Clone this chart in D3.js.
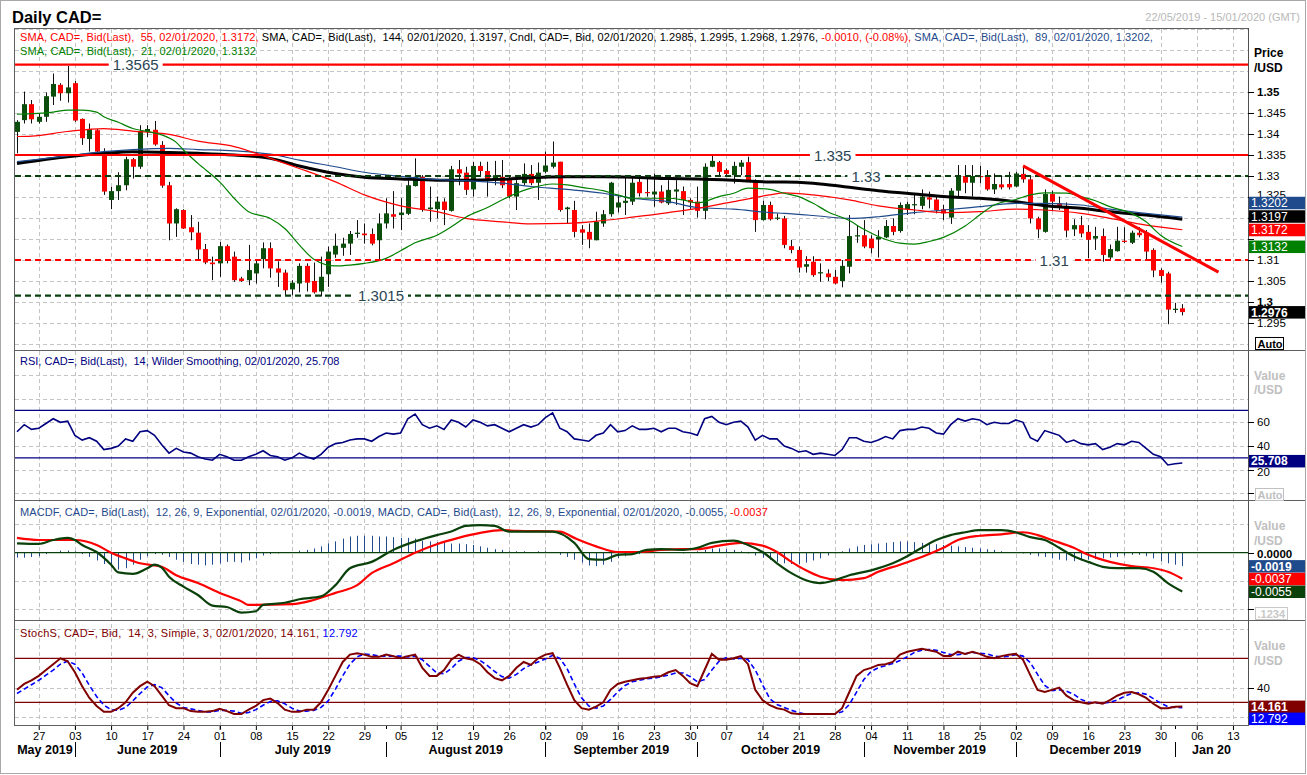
<!DOCTYPE html>
<html><head><meta charset="utf-8">
<script src="https://cdn.jsdelivr.net/npm/d3@7/dist/d3.min.js"></script>
<style>
html,body{margin:0;padding:0;background:#fff;}
svg{display:block;}
text{font-family:"Liberation Sans",Arial,sans-serif;white-space:pre;}
</style></head><body>
<svg id="chart" width="1307" height="775"></svg>
<script>
// ---------------- DATA ----------------
const firstTradingDay = "2019-05-22";
const candleOpen = [1.3405,1.3433,1.3471,1.3429,1.3441,1.3489,1.3517,1.3497,1.3521,1.3436,
1.3388,1.3409,1.3358,1.3243,1.3264,1.3278,1.3340,1.3322,1.3405,1.3410,
1.3374,1.3278,1.3187,1.3219,1.3178,1.3165,1.3126,1.3094,1.3092,1.3133,
1.3108,1.3056,1.3052,1.3068,1.3102,1.3128,1.3080,1.3070,1.3030,1.3044,
1.3086,1.3050,1.3025,1.3066,1.3113,1.3129,1.3139,1.3162,1.3163,1.3162,
1.3147,1.3187,1.3209,1.3207,1.3210,1.3276,1.3298,1.3221,1.3221,1.3239,
1.3217,1.3316,1.3308,1.3268,1.3324,1.3312,1.3290,1.3298,1.3292,1.3251,
1.3283,1.3305,1.3284,1.3310,1.3322,1.3334,1.3221,1.3219,1.3173,1.3167,
1.3147,1.3187,1.3209,1.3225,1.3236,1.3239,1.3286,1.3262,1.3256,1.3263,
1.3235,1.3263,1.3264,1.3243,1.3239,1.3217,1.3322,1.3333,1.3314,1.3302,
1.3322,1.3333,1.3290,1.3195,1.3231,1.3199,1.3199,1.3133,1.3124,1.3084,
1.3096,1.3068,1.3068,1.3060,1.3050,1.3084,1.3156,1.3159,1.3151,1.3149,
1.3154,1.3181,1.3169,1.3221,1.3231,1.3229,1.3249,1.3244,1.3221,1.3201,
1.3265,1.3300,1.3284,1.3300,1.3298,1.3268,1.3280,1.3281,1.3275,1.3305,
1.3292,1.3199,1.3167,1.3257,1.3235,1.3229,1.3173,1.3183,1.3167,1.3151,
1.3157,1.3106,1.3121,1.3146,1.3141,1.3165,1.3165,1.3124,1.3076,1.3068,
1.2981,1.2985];
const candleHigh = [1.3433,1.3501,1.3481,1.3449,1.3499,1.3544,1.3521,1.3562,1.3526,1.3437,
1.3425,1.3412,1.3366,1.3274,1.3309,1.3346,1.3343,1.3421,1.3421,1.3431,
1.3383,1.3286,1.3223,1.3221,1.3207,1.3191,1.3138,1.3108,1.3143,1.3137,
1.3120,1.3060,1.3136,1.3102,1.3142,1.3142,1.3097,1.3077,1.3052,1.3092,
1.3092,1.3094,1.3108,1.3132,1.3163,1.3153,1.3169,1.3195,1.3187,1.3175,
1.3211,1.3247,1.3264,1.3247,1.3290,1.3342,1.3302,1.3275,1.3251,1.3247,
1.3324,1.3338,1.3322,1.3334,1.3334,1.3334,1.3336,1.3338,1.3298,1.3290,
1.3330,1.3326,1.3332,1.3358,1.3382,1.3334,1.3227,1.3241,1.3183,1.3187,
1.3215,1.3219,1.3286,1.3255,1.3298,1.3298,1.3302,1.3302,1.3306,1.3278,
1.3290,1.3290,1.3275,1.3247,1.3275,1.3330,1.3348,1.3336,1.3318,1.3334,
1.3338,1.3346,1.3292,1.3241,1.3239,1.3211,1.3205,1.3148,1.3132,1.3109,
1.3109,1.3092,1.3078,1.3076,1.3100,1.3207,1.3181,1.3195,1.3159,1.3171,
1.3195,1.3199,1.3237,1.3239,1.3257,1.3268,1.3263,1.3251,1.3231,1.3271,
1.3326,1.3326,1.3326,1.3324,1.3314,1.3306,1.3302,1.3310,1.3310,1.3322,
1.3298,1.3203,1.3268,1.3265,1.3251,1.3237,1.3197,1.3205,1.3183,1.3179,
1.3175,1.3137,1.3179,1.3178,1.3170,1.3178,1.3171,1.3128,1.3080,1.3072,
1.2998,1.2995];
const candleLow = [1.3354,1.3425,1.3425,1.3425,1.3429,1.3469,1.3479,1.3475,1.3429,1.3374,
1.3358,1.3356,1.3255,1.3221,1.3243,1.3266,1.3294,1.3317,1.3393,1.3372,
1.3272,1.3147,1.3155,1.3174,1.3147,1.3100,1.3090,1.3052,1.3060,1.3092,
1.3048,1.3048,1.3040,1.3044,1.3080,1.3058,1.3036,1.3016,1.3016,1.3023,
1.3025,1.3020,1.3013,1.3036,1.3105,1.3110,1.3112,1.3153,1.3139,1.3135,
1.3100,1.3175,1.3175,1.3171,1.3207,1.3275,1.3215,1.3191,1.3199,1.3183,
1.3215,1.3278,1.3255,1.3251,1.3298,1.3251,1.3278,1.3271,1.3247,1.3219,
1.3278,1.3278,1.3243,1.3306,1.3318,1.3215,1.3187,1.3154,1.3136,1.3128,
1.3147,1.3179,1.3203,1.3213,1.3207,1.3231,1.3251,1.3251,1.3227,1.3235,
1.3231,1.3231,1.3207,1.3219,1.3201,1.3197,1.3321,1.3298,1.3298,1.3282,
1.3302,1.3289,1.3167,1.3194,1.3194,1.3195,1.3128,1.3116,1.3070,1.3070,
1.3060,1.3048,1.3050,1.3042,1.3035,1.3068,1.3141,1.3128,1.3116,1.3106,
1.3152,1.3159,1.3165,1.3207,1.3209,1.3221,1.3223,1.3211,1.3195,1.3186,
1.3252,1.3259,1.3251,1.3283,1.3265,1.3257,1.3268,1.3268,1.3273,1.3284,
1.3187,1.3152,1.3165,1.3217,1.3219,1.3154,1.3157,1.3154,1.3104,1.3124,
1.3096,1.3100,1.3120,1.3140,1.3138,1.3154,1.3100,1.3059,1.3046,1.2947,
1.2974,1.2968];
const candleClose = [1.3429,1.3471,1.3435,1.3441,1.3490,1.3519,1.3497,1.3511,1.3432,1.3390,
1.3412,1.3358,1.3263,1.3264,1.3278,1.3340,1.3322,1.3407,1.3412,1.3375,
1.3277,1.3187,1.3221,1.3175,1.3166,1.3125,1.3094,1.3090,1.3133,1.3102,
1.3052,1.3050,1.3076,1.3092,1.3128,1.3080,1.3070,1.3028,1.3046,1.3086,
1.3046,1.3023,1.3060,1.3120,1.3134,1.3139,1.3162,1.3165,1.3159,1.3139,
1.3187,1.3211,1.3203,1.3213,1.3278,1.3298,1.3219,1.3225,1.3239,1.3219,
1.3316,1.3306,1.3267,1.3324,1.3312,1.3288,1.3302,1.3278,1.3251,1.3283,
1.3305,1.3283,1.3308,1.3325,1.3332,1.3219,1.3225,1.3167,1.3165,1.3149,
1.3191,1.3209,1.3284,1.3237,1.3241,1.3284,1.3259,1.3260,1.3263,1.3237,
1.3267,1.3268,1.3243,1.3237,1.3217,1.3322,1.3336,1.3310,1.3305,1.3324,
1.3332,1.3290,1.3195,1.3231,1.3197,1.3201,1.3136,1.3124,1.3082,1.3090,
1.3064,1.3071,1.3059,1.3044,1.3086,1.3157,1.3159,1.3132,1.3128,1.3155,
1.3181,1.3167,1.3231,1.3233,1.3233,1.3251,1.3244,1.3219,1.3211,1.3265,
1.3300,1.3284,1.3300,1.3298,1.3268,1.3281,1.3273,1.3273,1.3306,1.3292,
1.3199,1.3173,1.3257,1.3239,1.3225,1.3170,1.3183,1.3163,1.3148,1.3157,
1.3112,1.3126,1.3146,1.3143,1.3165,1.3159,1.3120,1.3075,1.3062,1.2982,
1.2984,1.2976];

// moving averages: [day index, value]
const sma21 = [[0,1.3447],[5,1.3452],[7,1.3457],[9,1.3457],[11,1.3452],[12,1.3441],[14,1.3428],[16,1.3413],[18,1.3406],[20,1.3398],[22,1.3380],[23,1.3362],[25,1.3330],[28,1.3286],[30,1.3247],[32,1.3215],[35,1.3199],[37,1.3175],[39,1.3136],[41,1.3102],[44,1.3086],[46,1.3088],[48,1.3092],[51,1.3104],[53,1.3122],[55,1.3141],[58,1.3159],[60,1.3179],[62,1.3202],[65,1.3225],[67,1.3243],[69,1.3259],[71,1.3271],[74,1.3281],[76,1.3279],[78,1.3273],[81,1.3265],[83,1.3255],[85,1.3247],[88,1.3247],[90,1.3247],[92,1.3243],[94,1.3236],[97,1.3251],[99,1.3259],[101,1.3271],[104,1.3268],[106,1.3259],[108,1.3251],[110,1.3235],[112,1.3215],[115,1.3194],[117,1.3173],[119,1.3156],[122,1.3140],[124,1.3138],[126,1.3144],[128,1.3154],[131,1.3181],[133,1.3207],[135,1.3231],[138,1.3244],[140,1.3255],[142,1.3260],[145,1.3259],[147,1.3251],[149,1.3241],[151,1.3227],[154,1.3211],[156,1.3191],[158,1.3159],[161,1.3132]];
const sma55 = [[0,1.3394],[2,1.3395],[7,1.3406],[12,1.3413],[16,1.3407],[21,1.3399],[25,1.3383],[30,1.3370],[35,1.3342],[39,1.3318],[44,1.3286],[48,1.3255],[53,1.3229],[58,1.3215],[62,1.3199],[67,1.3191],[71,1.3186],[76,1.3187],[81,1.3194],[85,1.3202],[90,1.3213],[94,1.3223],[99,1.3239],[104,1.3255],[106,1.3260],[110,1.3255],[115,1.3243],[119,1.3229],[124,1.3219],[128,1.3213],[133,1.3215],[138,1.3221],[142,1.3219],[147,1.3211],[151,1.3199],[156,1.3183],[161,1.3172]];
const sma89 = [[0,1.3334],[7,1.3348],[12,1.3358],[16,1.3363],[21,1.3366],[25,1.3363],[30,1.3360],[35,1.3352],[39,1.3338],[44,1.3322],[48,1.3309],[53,1.3299],[58,1.3292],[62,1.3289],[67,1.3283],[71,1.3275],[76,1.3268],[81,1.3259],[85,1.3247],[90,1.3239],[94,1.3225],[99,1.3221],[104,1.3213],[106,1.3211],[110,1.3206],[115,1.3199],[119,1.3203],[124,1.3213],[128,1.3219],[133,1.3227],[138,1.3235],[142,1.3235],[147,1.3231],[151,1.3221],[156,1.3211],[161,1.3202]];
const sma144 = [[0,1.3330],[7,1.3346],[12,1.3354],[16,1.3358],[21,1.3356],[25,1.3354],[30,1.3350],[35,1.3342],[39,1.3324],[44,1.3306],[48,1.3297],[53,1.3293],[58,1.3290],[62,1.3290],[67,1.3292],[71,1.3296],[76,1.3298],[81,1.3298],[85,1.3297],[90,1.3294],[94,1.3293],[99,1.3290],[104,1.3286],[106,1.3286],[110,1.3283],[115,1.3273],[119,1.3265],[124,1.3257],[128,1.3251],[133,1.3247],[138,1.3239],[142,1.3229],[147,1.3223],[151,1.3215],[156,1.3207],[161,1.3197]];

const levelValues = [1.3565, 1.335, 1.33, 1.31, 1.3015];
const levelLabels = ["1.3565", "1.335", "1.33", "1.31", "1.3015"];
const levelLabelDay = [16.4, 112.7, 117.3, 143.3, 50.3];
const trendDays = [139, 166];
const trendPrices = [1.3324, 1.3071];

const priceTicks = [1.295,1.3,1.305,1.31,1.315,1.32,1.325,1.33,1.335,1.34,1.345,1.35];
// labels hidden under the value boxes in the reference are left blank
const priceTickLabels = ["1.295","1.3","1.305","1.31","","","1.325","1.33","1.335","1.34","1.345","1.35"];

const rsi = [52,58,54,55,59,63,60,61,49,45,
47,44,37,38,40,46,44,52,53,49,
41,34,38,35,34,31,29,28,33,31,
28,28,31,33,36,32,31,28,30,34,
31,29,33,39,42,43,45,46,46,44,
48,51,50,51,63,67,58,55,57,54,
62,60,56,62,60,57,58,55,52,55,
58,56,58,64,68,55,52,46,45,44,
49,51,58,52,53,57,54,54,55,52,
55,55,52,51,49,63,65,60,58,60,
61,56,45,49,46,46,40,38,35,36,
33,34,33,32,37,47,47,44,43,45,
48,46,53,54,54,56,55,51,50,58,
63,61,63,62,58,60,59,59,62,60,
47,44,53,51,49,43,45,42,41,42,
37,39,42,41,44,43,38,33,31,24,
25,25.708];
const rsiBands = [70, 30];

const macdLine = [[0,0.00133],[3,0.00125],[5,0.0018],[7,0.0021],[8,0.0018],[9,0.0011],[11,0.0001],[13,-0.0017],[14,-0.0028],[16,-0.0030],[18,-0.0022],[19,-0.0017],[20,-0.0021],[21,-0.0034],[23,-0.0048],[25,-0.0060],[27,-0.0075],[29,-0.0077],[31,-0.0085],[33,-0.0083],[34,-0.0074],[37,-0.0071],[39,-0.0066],[42,-0.0062],[44,-0.0046],[46,-0.0022],[49,-0.0013],[52,0.0004],[55,0.0016],[58,0.0025],[60,0.0030],[62,0.0038],[64,0.0039],[66,0.0038],[68,0.0030],[74,0.0030],[77,0.0014],[79,-0.0009],[81,-0.0010],[83,-0.0003],[85,-0.0002],[87,0.0004],[89,0.0005],[92,0.0004],[94,0.0007],[96,0.0014],[99,0.0017],[101,0.0011],[103,0.0001],[105,-0.0015],[107,-0.0029],[109,-0.0039],[111,-0.0043],[113,-0.0039],[115,-0.0032],[118,-0.0025],[121,-0.0015],[123,-0.0005],[125,0.0007],[127,0.0018],[129,0.0025],[131,0.0029],[133,0.0032],[136,0.0032],[138,0.0029],[140,0.0022],[142,0.0018],[144,0.0007],[146,-0.0005],[148,-0.0013],[150,-0.0020],[152,-0.0022],[155,-0.0022],[157,-0.0027],[159,-0.0043],[161,-0.0055]];
const macdSignal = [[0,0.0021],[3,0.0018],[8,0.0018],[11,0.0011],[13,0.0000],[15,-0.0008],[17,-0.0015],[20,-0.0020],[22,-0.0032],[25,-0.0043],[28,-0.0057],[31,-0.0069],[32,-0.0074],[38,-0.0073],[41,-0.0067],[44,-0.0057],[47,-0.0046],[49,-0.0029],[52,-0.0015],[55,0.0000],[58,0.0012],[61,0.0021],[64,0.0028],[67,0.0032],[69,0.0031],[75,0.0030],[77,0.0021],[80,0.0009],[83,0.0001],[86,0.0001],[89,0.0004],[92,0.0005],[94,0.0005],[97,0.0010],[100,0.0014],[103,0.0010],[105,0.0001],[107,-0.0013],[109,-0.0025],[111,-0.0034],[114,-0.0039],[117,-0.0036],[119,-0.0027],[122,-0.0017],[125,-0.0006],[128,0.0007],[130,0.0018],[133,0.0024],[136,0.0026],[139,0.0029],[141,0.0025],[143,0.0018],[146,0.0007],[148,-0.0003],[151,-0.0013],[154,-0.0019],[157,-0.0022],[159,-0.0027],[161,-0.0037]];
const macdHist = [-0.0007,-0.0007,-0.0006,-0.0005,-0.0002,0.0001,0.0003,0.0003,0.0002,-0.0002,
-0.0006,-0.0011,-0.0016,-0.0021,-0.0024,-0.0022,-0.0017,-0.0010,-0.0005,-0.0002,
-0.0003,-0.0006,-0.0010,-0.0013,-0.0016,-0.0017,-0.0018,-0.0017,-0.0015,-0.0013,
-0.0013,-0.0014,-0.0011,-0.0008,-0.0004,-0.0002,-0.0001,0.0000,0.0001,0.0003,
0.0004,0.0006,0.0009,0.0013,0.0016,0.0020,0.0023,0.0024,0.0024,0.0024,
0.0023,0.0023,0.0022,0.0021,0.0021,0.0020,0.0017,0.0016,0.0015,0.0014,
0.0013,0.0013,0.0012,0.0011,0.0009,0.0007,0.0005,0.0004,0.0002,0.0002,
0.0002,0.0001,0.0002,0.0002,0.0001,-0.0003,-0.0006,-0.0010,-0.0014,-0.0018,
-0.0019,-0.0017,-0.0013,-0.0008,-0.0005,-0.0003,-0.0002,0.0001,0.0001,0.0000,
0.0001,0.0000,-0.0001,0.0000,0.0002,0.0004,0.0006,0.0006,0.0005,0.0004,
0.0002,-0.0001,-0.0004,-0.0007,-0.0010,-0.0013,-0.0015,-0.0016,-0.0016,-0.0014,
-0.0011,-0.0008,-0.0004,-0.0001,0.0002,0.0006,0.0009,0.0011,0.0012,0.0013,
0.0014,0.0015,0.0016,0.0016,0.0015,0.0014,0.0013,0.0012,0.0011,0.0010,
0.0009,0.0008,0.0007,0.0006,0.0005,0.0004,0.0002,0.0001,0.0000,-0.0001,
-0.0003,-0.0005,-0.0006,-0.0008,-0.0010,-0.0011,-0.0012,-0.0011,-0.0010,-0.0009,
-0.0008,-0.0007,-0.0006,-0.0004,-0.0003,-0.0003,-0.0005,-0.0008,-0.0012,-0.0015,
-0.0017,-0.0019];

const stochK = [37,45,50,56,64,72,80,76,61,42,
26,15,7,7,12,20,33,42,48,42,
29,16,12,12,8,7,7,8,11,8,
4,4,10,15,23,25,19,10,7,7,
10,10,20,37,56,75,85,87,85,82,
82,85,83,80,83,85,67,56,56,64,
78,85,80,78,72,61,53,50,56,67,
75,71,80,85,87,67,44,23,12,10,
14,20,37,45,48,50,52,53,55,56,
61,64,56,46,42,64,86,78,78,80,
83,72,37,23,16,12,10,5,4,4,
4,4,4,4,12,34,56,64,67,71,
72,75,85,89,91,93,91,89,83,83,
89,86,89,86,82,80,83,85,86,78,
57,37,34,37,40,29,23,20,18,20,
18,23,29,33,34,31,26,18,12,12,
14,14.161];
const stochD = [32,38,44,50,57,64,72,76,72,60,
43,28,16,10,9,13,22,32,41,44,
40,29,19,13,11,9,7,7,9,9,
8,5,6,10,16,21,22,18,12,8,
8,9,13,22,38,56,72,82,86,85,
83,83,83,83,82,83,78,69,60,59,
66,76,81,81,77,70,62,55,53,58,
66,71,75,79,84,80,66,45,26,15,
12,15,24,34,43,48,50,52,53,55,
57,60,60,55,48,51,64,76,81,79,
80,78,64,44,25,17,13,9,6,4,
4,4,4,4,7,17,34,51,62,67,
70,73,77,82,88,91,92,91,88,85,
85,86,88,87,86,83,82,83,85,83,
74,58,43,36,37,35,31,24,20,19,
19,20,23,28,32,33,31,25,19,14,
13,12.792];
const stochBands = [80, 20];

const monthLabels = ["May 2019","June 2019","July 2019","August 2019","September 2019","October 2019","November 2019","December 2019","Jan 20"];

// ---------------- LAYOUT ----------------
const L = 15, R = 1248, RR = 1305;
const panels = {price:[28,350], rsi:[350,500], macd:[500,620], stoch:[620,725]};
const C = {green:"#0b4d0b", red:"#ff0000", navy:"#000080", blue:"#1f4a8c", grid:"#c4c4c4",
  maroon:"#800000", label:"#2a4654", macdGreen:"#0a400a"};

const svg = d3.select("#chart");
svg.append("rect").attr("width",1307).attr("height",775).attr("fill","#fff");

// trading days (weekdays)
const tradingDays = [];
for (let d = new Date(2019,4,22); tradingDays.length < 171; d.setDate(d.getDate()+1)) {
  if (d.getDay() % 6 !== 0) tradingDays.push(new Date(d));
}
const nDays = candleClose.length;
const idx = d3.range(nDays);
const x = d3.scaleLinear().domain([0,161]).range([17,1182.3]);
const yP = d3.scaleLinear().domain([1.3,1.35]).range([302,92]);
const yR = d3.scaleLinear().domain([0,100]).range([493.4,374.9]);
const yM = d3.scaleLinear().domain([0,-0.0055]).range([552.7,591.5]);
const yS = d3.scaleLinear().domain([20,80]).range([702.3,658.3]);

const mondays = d3.range(tradingDays.length).filter(i => tradingDays[i].getDay() === 1);

// clip paths
const defs = svg.append("defs");
Object.entries(panels).forEach(([k,[t,b]]) => {
  defs.append("clipPath").attr("id","clip-"+k).append("rect")
    .attr("x",L).attr("y",t+1).attr("width",R-L).attr("height",b-t-1);
});

// ---------------- GRID ----------------
const grid = svg.append("g").attr("stroke",C.grid).attr("stroke-dasharray","4,3").attr("stroke-width",1);
mondays.forEach(i => {
  const xx = Math.round(x(i)) + 0.5;
  grid.append("line").attr("x1",xx).attr("x2",xx).attr("y1",29).attr("y2",725);
});
function hgrid(vals, scale){
  vals.forEach(v => { const yy = Math.round(scale(v)) + 0.5;
    grid.append("line").attr("x1",L).attr("x2",R).attr("y1",yy).attr("y2",yy); });
}
hgrid(d3.range(0,16).map(k => 1.29 + k*0.005), yP);
hgrid([0,20,40,60,80,100], yR);
hgrid([0.004,-0.004,-0.008], yM);
hgrid([0,40,80,120], yS);

// ---------------- PRICE PANEL ----------------
const gP = svg.append("g").attr("clip-path","url(#clip-price)");

// candles
const cg = gP.append("g");
idx.forEach(i => {
  const up = candleClose[i] >= candleOpen[i];
  const xc = Math.round(x(i)) + 0.5;
  cg.append("line").attr("x1",xc).attr("x2",xc)
    .attr("y1",yP(candleHigh[i])).attr("y2",yP(candleLow[i]))
    .attr("stroke","#111").attr("stroke-width",1);
  const y1 = yP(Math.max(candleOpen[i],candleClose[i]));
  const y2 = yP(Math.min(candleOpen[i],candleClose[i]));
  cg.append("rect").attr("x",xc-2.5).attr("y",y1).attr("width",5)
    .attr("height",Math.max(1.2,y2-y1)).attr("fill", up ? C.green : C.red);
});

// SMAs
const maLine = d3.line().x(d => x(d[0])).y(d => yP(d[1])).curve(d3.curveMonotoneX);
gP.append("path").attr("d",maLine(sma144)).attr("fill","none").attr("stroke","#000").attr("stroke-width",3);
gP.append("path").attr("d",maLine(sma89)).attr("fill","none").attr("stroke",C.blue).attr("stroke-width",1.2);
gP.append("path").attr("d",maLine(sma55)).attr("fill","none").attr("stroke","#ff0000").attr("stroke-width",1.2);
gP.append("path").attr("d",maLine(sma21)).attr("fill","none").attr("stroke","#008000").attr("stroke-width",1.2);

// level lines
const levelStyle = [
  {c:"#ff0000", dash:null},{c:"#ff0000", dash:null},{c:"#0a4010", dash:"6,4"},
  {c:"#ff0000", dash:"6,4"},{c:"#0a4010", dash:"6,4"}];
levelValues.forEach((v,k) => {
  const yy = yP(v);
  gP.append("line").attr("x1",L).attr("x2",R).attr("y1",yy).attr("y2",yy)
    .attr("stroke",levelStyle[k].c).attr("stroke-width",2.2)
    .attr("stroke-dasharray",levelStyle[k].dash);
});
// trend line
gP.append("line").attr("x1",x(trendDays[0])).attr("y1",yP(trendPrices[0]))
  .attr("x2",x(trendDays[1])).attr("y2",yP(trendPrices[1]))
  .attr("stroke","#ff0000").attr("stroke-width",3);
// level labels
levelValues.forEach((v,k) => {
  const t = gP.append("text").attr("x",x(levelLabelDay[k])).attr("y",yP(v)+5.5)
    .attr("text-anchor","middle").attr("font-size",15).attr("fill",C.label).text(levelLabels[k]);
  const bb = t.node().getBBox();
  gP.insert("rect", () => t.node()).attr("x",bb.x-4).attr("y",yP(v)-3).attr("width",bb.width+8).attr("height",6).attr("fill","#fff");
});

// ---------------- RSI PANEL ----------------
const gR = svg.append("g").attr("clip-path","url(#clip-rsi)");
rsiBands.forEach(v => gR.append("line").attr("x1",L).attr("x2",R).attr("y1",yR(v)).attr("y2",yR(v))
  .attr("stroke",C.navy).attr("stroke-width",1.2));
gR.append("path").attr("d", d3.line().x((d,i)=>x(i)).y(d=>yR(d))(rsi))
  .attr("fill","none").attr("stroke",C.navy).attr("stroke-width",1.6);

// ---------------- MACD PANEL ----------------
const gM = svg.append("g").attr("clip-path","url(#clip-macd)");
idx.forEach(i => {
  const xc = Math.round(x(i)) + 0.5;
  gM.append("line").attr("x1",xc).attr("x2",xc).attr("y1",yM(0)).attr("y2",yM(macdHist[i]))
    .attr("stroke",C.blue).attr("stroke-width",1);
});
gM.append("line").attr("x1",L).attr("x2",R).attr("y1",yM(0)).attr("y2",yM(0))
  .attr("stroke",C.macdGreen).attr("stroke-width",1.3);
const mLine = d3.line().x(d => x(d[0])).y(d => yM(d[1])).curve(d3.curveMonotoneX);
gM.append("path").attr("d",mLine(macdSignal)).attr("fill","none").attr("stroke","#ff0000").attr("stroke-width",2.2);
gM.append("path").attr("d",mLine(macdLine)).attr("fill","none").attr("stroke",C.macdGreen).attr("stroke-width",2.2);

// ---------------- STOCH PANEL ----------------
const gS = svg.append("g").attr("clip-path","url(#clip-stoch)");
stochBands.forEach(v => gS.append("line").attr("x1",L).attr("x2",R).attr("y1",yS(v)).attr("y2",yS(v))
  .attr("stroke",C.maroon).attr("stroke-width",1.2));
gS.append("path").attr("d", d3.line().x((d,i)=>x(i)).y(d=>yS(d))(stochD))
  .attr("fill","none").attr("stroke","#0000ff").attr("stroke-width",1.6).attr("stroke-dasharray","5,3");
gS.append("path").attr("d", d3.line().x((d,i)=>x(i)).y(d=>yS(d))(stochK))
  .attr("fill","none").attr("stroke",C.maroon).attr("stroke-width",2);

// ---------------- FRAMES ----------------
svg.append("rect").attr("x",0.5).attr("y",0.5).attr("width",1305).attr("height",773)
  .attr("fill","none").attr("stroke","#a8a8a8");
svg.append("line").attr("x1",14.5).attr("x2",14.5).attr("y1",28).attr("y2",726).attr("stroke","#606060");
svg.append("line").attr("x1",14).attr("x2",R+0.5).attr("y1",28.5).attr("y2",28.5).attr("stroke","#606060");
svg.append("line").attr("x1",R+0.5).attr("x2",R+0.5).attr("y1",28).attr("y2",726).attr("stroke","#505050");
[350,500,620].forEach(yy => svg.append("line").attr("x1",14).attr("x2",RR).attr("y1",yy+0.5).attr("y2",yy+0.5).attr("stroke","#606060"));
svg.append("line").attr("x1",14).attr("x2",R+1).attr("y1",725.5).attr("y2",725.5).attr("stroke","#606060");

// ---------------- RIGHT AXES ----------------
const ax = svg.append("g");
function tick(yy){ ax.append("line").attr("x1",R).attr("x2",R+6).attr("y1",Math.round(yy)+0.5).attr("y2",Math.round(yy)+0.5).attr("stroke","#000"); }
function tlabel(yy, txt, bold, dy){ if(!txt) return; ax.append("text").attr("x",1257).attr("y",yy+4+(dy||0)).attr("font-size",11.5)
  .attr("font-weight",bold?"bold":"normal").attr("fill","#000").text(txt); }
priceTicks.forEach((v,k) => { tick(yP(v)); tlabel(yP(v), priceTickLabels[k], v===1.3||v===1.35, v===1.325?-2:0); });
[0,20,40,60].forEach(v => tick(yR(v)));
[20,40,60].forEach(v => tlabel(yR(v), String(v), false, v===20?2:0));
tick(yM(0)); tick(yM(-0.008));
tlabel(yM(0), "0.0000", true, 1.5);
tick(yS(40)); tlabel(yS(40), "40", false);

ax.append("text").attr("x",1254).attr("y",57).attr("font-size",12).attr("font-weight","bold").text("Price");
ax.append("text").attr("x",1254).attr("y",72).attr("font-size",12).attr("font-weight","bold").text("/USD");
[[380,394],[530,545],[650,665]].forEach(([a,b]) => {
  ax.append("text").attr("x",1254).attr("y",a).attr("font-size",12).attr("font-weight","bold").attr("fill","#c0c0c0").text("Value");
  ax.append("text").attr("x",1254).attr("y",b).attr("font-size",12).attr("font-weight","bold").attr("fill","#c0c0c0").text("/USD");
});
function smallBox(y0, txt, col, w){
  ax.append("rect").attr("x",1255.5).attr("y",y0+0.5).attr("width",w).attr("height",12).attr("fill","#fff").attr("stroke",col);
  ax.append("text").attr("x",1257.5).attr("y",y0+10.5).attr("font-size",11).attr("font-weight","bold").attr("fill",col).text(txt);
}
smallBox(337, "Auto", "#000", 28);
smallBox(488, "Auto", "#c0c0c0", 28);
smallBox(607, ".1234", "#c8c8c8", 32);

function valueBox(yc, fill, txt, bold){
  ax.append("rect").attr("x",1249).attr("y",yc-6).attr("width",56).attr("height",12.5).attr("fill",fill);
  ax.append("text").attr("x",1251).attr("y",yc+4.5).attr("font-size",12).attr("font-weight",bold?"bold":"normal")
    .attr("fill","#fff").text(txt);
}
// price boxes stacked upward from the lowest
const lastIdx = sma21.length-1;
const pb = [
  {v:sma21[lastIdx][1], c:"#008000", t:"1.3132"},
  {v:sma55[sma55.length-1][1], c:"#ff0000", t:"1.3172"},
  {v:sma144[sma144.length-1][1], c:"#000000", t:"1.3197"},
  {v:sma89[sma89.length-1][1], c:C.blue, t:"1.3202"}];
let prevY = 1e9;
pb.forEach(b => { const yy = Math.min(yP(b.v), prevY-13.5); prevY = yy; valueBox(yy, b.c, b.t, false); });
valueBox(yP(candleClose[nDays-1]), "#000", "1.2976", true);
valueBox(yR(rsi[nDays-1])-2, C.navy, "25.708", true);
valueBox(yM(macdHist[nDays-1]), C.blue, "-0.0019", true);
valueBox(yM(macdSignal[macdSignal.length-1][1]), "#ff0000", "-0.0037", false);
valueBox(yM(macdLine[macdLine.length-1][1]), C.macdGreen, "-0.0055", false);
valueBox(yS(stochK[nDays-1]), C.maroon, "14.161", true);
valueBox(yS(stochK[nDays-1])+12, "#0000ff", "12.792", false);

// ---------------- X AXIS ----------------
const xa = svg.append("g").attr("transform","translate(0,726)")
  .call(d3.axisBottom(x).tickValues(mondays).tickSize(4).tickPadding(2)
    .tickFormat(i => d3.timeFormat("%d")(tradingDays[i])));
xa.select(".domain").remove();
xa.selectAll("text").attr("font-size",11).attr("font-family","Liberation Sans, Arial, sans-serif").attr("fill","#000");
xa.selectAll("line").attr("stroke","#000");
const monthStarts = d3.range(1,tradingDays.length).filter(i => tradingDays[i].getMonth() !== tradingDays[i-1].getMonth());
monthStarts.forEach(i => {
  const xx = Math.round(x(i)) + 0.5;
  svg.append("line").attr("x1",xx).attr("x2",xx).attr("y1",742).attr("y2",757).attr("stroke","#000");
  svg.append("line").attr("x1",xx).attr("x2",xx).attr("y1",726).attr("y2",729).attr("stroke","#000");
});
const bounds = [L, ...monthStarts.map(i => x(i)), R];
monthLabels.forEach((m,k) => {
  svg.append("text").attr("x",(bounds[k]+bounds[k+1])/2).attr("y",754).attr("text-anchor","middle")
    .attr("font-size",12.5).attr("font-weight","bold").text(m);
});

// ---------------- TITLES / HEADERS ----------------
svg.append("text").attr("x",12).attr("y",23).attr("font-size",16.5).attr("font-weight","bold").text("Daily CAD=");
svg.append("text").attr("x",1300).attr("y",21).attr("text-anchor","end").attr("font-size",11).attr("fill","#b8b8b8")
  .text("22/05/2019 - 15/01/2020 (GMT)");

function header(xx, yy, parts, targetEnd){
  const t = svg.append("text").attr("x",xx).attr("y",yy).attr("font-size",11);
  parts.forEach(([s,c]) => t.append("tspan").attr("fill",c).text(s));
  const w = t.node().getComputedTextLength();
  const n = parts.reduce((a,p)=>a+p[0].length,0);
  t.attr("letter-spacing", Math.max(0, ((targetEnd-xx)-w)/n));
}
header(20, 41, [
  ["SMA, CAD=, Bid(Last),  55, 02/01/2020, 1.3172,","#ff0000"],
  [" SMA, CAD=, Bid(Last),  144, 02/01/2020, 1.3197, Cndl, CAD=, Bid, 02/01/2020, 1.2985, 1.2995, 1.2968, 1.2976,","#000"],
  [" -0.0010, (-0.08%),","#ff0000"],
  [" SMA, CAD=, Bid(Last),  89, 02/01/2020, 1.3202,",C.blue]], 1153);
header(20, 55, [["SMA, CAD=, Bid(Last),  21, 02/01/2020, 1.3132","#008000"]], 256);
header(20, 365, [["RSI, CAD=, Bid(Last),  14, Wilder Smoothing, 02/01/2020, 25.708",C.navy]], 326);
header(20, 516, [["MACDF, CAD=, Bid(Last),  12, 26, 9, Exponential, 02/01/2020, -0.0019, MACD, CAD=, Bid(Last),  12, 26, 9, Exponential, 02/01/2020, -0.0055,",C.blue],[" -0.0037","#ff0000"]], 768);
header(20, 637, [["StochS, CAD=, Bid,  14, 3, Simple, 3, 02/01/2020, 14.161,",C.maroon],[" 12.792","#0000ff"]], 358);
</script>
</body></html>
